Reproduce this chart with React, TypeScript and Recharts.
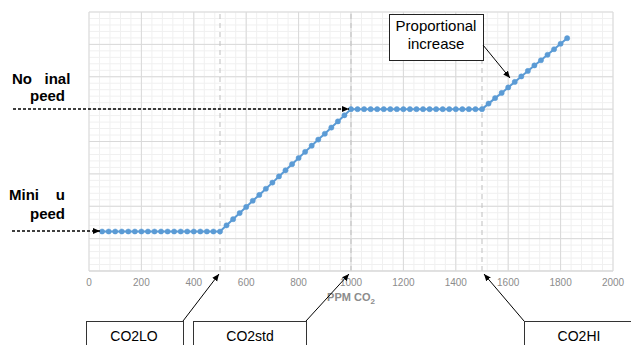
import React from "react";
import { LineChart, Line, XAxis, YAxis, ReferenceLine, Label } from "recharts";

// CO2 concentration (ppm) of each sample
const ppm = [
  50, 75, 100, 125, 150, 175, 200, 225, 250, 275, 300, 325, 350, 375, 400, 425, 450, 475, 500,
  525, 550, 575, 600, 625, 650, 675, 700, 725, 750, 775, 800, 825, 850, 875, 900, 925, 950, 975, 1000,
  1025, 1050, 1075, 1100, 1125, 1150, 1175, 1200, 1225, 1250, 1275, 1300, 1325, 1350, 1375, 1400, 1425, 1450, 1475, 1500,
  1525, 1550, 1575, 1600, 1625, 1650, 1675, 1700, 1725, 1750, 1775, 1800, 1825,
];

// fan speed (arbitrary units, y axis hidden)
const speed = [
  12.2, 12.2, 12.2, 12.2, 12.2, 12.2, 12.2, 12.2, 12.2, 12.2, 12.2, 12.2, 12.2, 12.2, 12.2, 12.2, 12.2, 12.2, 12.2,
  14.1, 16.0, 17.9, 19.8, 21.7, 23.5, 25.4, 27.3, 29.2, 31.1, 33.0, 34.9, 36.8, 38.7, 40.6, 42.4, 44.3, 46.2, 48.1, 50.0,
  50, 50, 50, 50, 50, 50, 50, 50, 50, 50, 50, 50, 50, 50, 50, 50, 50, 50, 50, 50,
  51.7, 53.4, 55.0, 56.7, 58.4, 60.1, 61.8, 63.5, 65.1, 66.8, 68.5, 70.2, 71.9,
];

const xTicks = [0, 200, 400, 600, 800, 1000, 1200, 1400, 1600, 1800, 2000];
const yMajor = [0, 10, 20, 30, 40, 50, 60, 70, 80];
const setpoints = [500, 1000, 1500];

const minorX = Array.from({ length: 51 }, (_, i) => i * 40);
const minorY = Array.from({ length: 41 }, (_, i) => i * 2);

const data = ppm.map((p, i) => ({ ppm: p, speed: speed[i] }));

const BLUE = "#5b9bd5";
const FONT = "'Liberation Sans', Arial, sans-serif";

const AxisTitle = (props: any) => {
  const vb = props.viewBox;
  return (
    <text
      x={vb.x + vb.width / 2}
      y={vb.y + 30}
      textAnchor="middle"
      fill="#8c8c8c"
      fontSize={11}
      fontWeight="bold"
      fontFamily={FONT}
    >
      PPM CO<tspan fontSize={8} dy={3}>2</tspan>
    </text>
  );
};

export default function App() {
  return (
    <div style={{ position: "absolute", left: 0, top: 0, width: 631, height: 345, background: "#fff" }}>
      <LineChart
        width={631}
        height={345}
        data={data}
        margin={{ top: 12, right: 18, left: 89, bottom: 44 }}
        style={{ fontFamily: FONT }}
      >
        <XAxis
          type="number"
          dataKey="ppm"
          domain={[0, 2000]}
          ticks={xTicks}
          interval={0}
          tickLine={false}
          axisLine={{ stroke: "#d9d9d9" }}
          tick={{ fill: "#8c8c8c", fontSize: 10 }}
          height={30}
        >
          <Label content={AxisTitle} />
        </XAxis>
        <YAxis type="number" domain={[0, 80]} hide />

        {minorX.map((v) => (
          <ReferenceLine key={"mx" + v} x={v} stroke="#f0f0f0" strokeWidth={1} />
        ))}
        {minorY.map((v) => (
          <ReferenceLine key={"my" + v} y={v} stroke="#f0f0f0" strokeWidth={1} />
        ))}
        {xTicks.map((v) => (
          <ReferenceLine key={"Mx" + v} x={v} stroke="#d9d9d9" strokeWidth={1} />
        ))}
        {yMajor.map((v) => (
          <ReferenceLine key={"My" + v} y={v} stroke="#d9d9d9" strokeWidth={1} />
        ))}
        {setpoints.map((v) => (
          <ReferenceLine key={"sp" + v} x={v} stroke="#bfbfbf" strokeDasharray="5 4" strokeWidth={1} />
        ))}

        <Line
          dataKey="speed"
          stroke={BLUE}
          strokeWidth={2}
          dot={{ r: 2.6, fill: BLUE, stroke: BLUE, strokeWidth: 0.5 }}
          isAnimationActive={false}
        />
      </LineChart>

      <svg
        width={631}
        height={345}
        style={{ position: "absolute", left: 0, top: 0, pointerEvents: "none" }}
        fontFamily={FONT}
      >
        <defs>
          <marker id="arr" markerWidth="8" markerHeight="8" refX="7" refY="4" orient="auto" markerUnits="userSpaceOnUse">
            <path d="M0,1 L7,4 L0,7 Z" fill="#000" />
          </marker>
        </defs>

        {/* left labels */}
        <text x={12} y={84} fontSize={15} fontWeight="bold" fill="#000">No{"\u00a0\u00a0\u00a0"}inal</text>
        <text x={30} y={101} fontSize={15} fontWeight="bold" fill="#000">peed</text>
        <line x1={13} y1={109} x2={349} y2={109} stroke="#000" strokeWidth={1.3} strokeDasharray="3 2" markerEnd="url(#arr)" />

        <text x={9} y={200} fontSize={15} fontWeight="bold" fill="#000">Mini{"\u00a0\u00a0\u00a0\u00a0"}u</text>
        <text x={30} y={219} fontSize={15} fontWeight="bold" fill="#000">peed</text>
        <line x1={12} y1={231} x2={100} y2={231} stroke="#000" strokeWidth={1.3} strokeDasharray="3 2" markerEnd="url(#arr)" />

        {/* proportional increase */}
        <rect x={389.5} y={14.5} width={94} height={46} fill="#fff" stroke="#222" />
        <text x={436} y={31} textAnchor="middle" fontSize={15} fill="#000">Proportional</text>
        <text x={436} y={49} textAnchor="middle" fontSize={15} fill="#000">increase</text>
        <line x1={483} y1={45} x2={510} y2={78} stroke="#000" markerEnd="url(#arr)" />

        {/* setpoint boxes */}
        <rect x={86.5} y={321.5} width={97} height={40} fill="#fff" stroke="#333" />
        <text x={134} y={341} textAnchor="middle" fontSize={14} fill="#000">CO2LO</text>
        <line x1={183} y1={321} x2={219} y2={274} stroke="#000" markerEnd="url(#arr)" />

        <rect x={193.5} y={321.5} width={113} height={40} fill="#fff" stroke="#333" />
        <text x={250} y={341} textAnchor="middle" fontSize={14} fill="#000">CO2std</text>
        <line x1={306} y1={321} x2={349} y2={274} stroke="#000" markerEnd="url(#arr)" />

        <rect x={524.5} y={321.5} width={120} height={40} fill="#fff" stroke="#333" />
        <text x={579} y={341} textAnchor="middle" fontSize={14} fill="#000">CO2HI</text>
        <line x1={524} y1={321} x2={484} y2={274} stroke="#000" markerEnd="url(#arr)" />
      </svg>
    </div>
  );
}
